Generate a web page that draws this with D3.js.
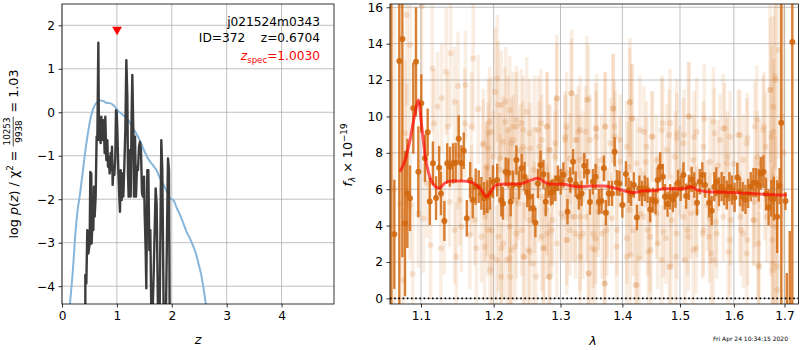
<!DOCTYPE html>
<html><head><meta charset="utf-8">
<script src="https://cdn.jsdelivr.net/npm/d3@7"></script>
<style>
body{margin:0;background:#fff;}
svg{font-family:"DejaVu Sans",sans-serif;}
</style></head><body>
<svg id="c" width="800" height="350"></svg>
<script>
// ---------------- LEFT PANEL DATA ----------------
const pzZ = [0.425,0.425,0.443,0.461,0.480,0.504,0.516,0.534,0.540,0.558,0.571,0.583,0.595,0.613,0.631,0.644,0.662,0.674,0.692,0.704,0.716,0.735,0.747,0.759,0.777,0.789,0.808,0.826,0.838,0.850,0.868,0.886,0.899,0.911,0.923,0.935,0.953,0.971,0.984,0.996,1.008,1.026,1.044,1.056,1.069,1.087,1.105,1.117,1.135,1.154,1.172,1.190,1.202,1.214,1.232,1.251,1.269,1.281,1.299,1.311,1.330,1.348,1.366,1.384,1.403,1.421,1.439,1.457,1.475,1.494,1.506,1.524,1.536,1.554,1.573,1.591,1.609,1.627,1.651,1.670,1.706,1.724,1.749,1.779,1.809,1.827,1.852,1.894,1.931,1.949,1.961];
const pzLog = [-4.6,-3.74,-3.94,-2.71,-3.25,-3.02,-1.37,-1.41,-3.02,-2.40,-2.71,-1.71,-2.40,-1.94,-0.56,-0.64,1.60,-0.64,-0.41,-0.71,-0.10,-0.41,-0.64,-0.18,-0.94,-0.10,-1.10,-0.64,-1.25,-1.02,-1.41,-0.94,-1.33,-0.79,-1.67,-1.33,-1.44,-1.02,0.05,0.01,-0.41,-1.33,-1.94,-2.29,-1.33,-2.02,-1.41,-1.94,-1.25,-0.41,1.20,0.36,-1.41,-1.94,-0.87,-1.94,-0.02,0.86,-0.41,-1.94,-0.56,-1.94,-1.25,-1.33,-0.79,-0.68,-0.87,-1.86,-1.94,-1.48,-2.33,-3.17,-4.05,-1.33,-1.33,-3.17,-2.71,-4.6,-4.6,-3.71,-1.75,-2.10,-4.6,-4.6,-0.64,-1.33,-4.6,-4.6,-1.06,-1.33,-4.6];
const priorZ = [0.13,0.20,0.24,0.28,0.33,0.39,0.42,0.47,0.51,0.56,0.60,0.65,0.70,0.75,0.80,0.87,0.93,0.97,1.03,1.10,1.20,1.30,1.40,1.47,1.54,1.60,1.66,1.72,1.78,1.85,1.92,1.97,2.03,2.09,2.15,2.21,2.27,2.33,2.39,2.44,2.48,2.53,2.57,2.62,2.65];
const priorLog = [-4.6,-3.6,-2.86,-2.3,-1.86,-1.25,-0.94,-0.5,-0.2,0.05,0.17,0.24,0.27,0.26,0.22,0.21,0.17,0.12,0.02,-0.05,-0.17,-0.38,-0.6,-0.8,-1.0,-1.13,-1.22,-1.33,-1.5,-1.67,-1.85,-1.98,-2.02,-2.2,-2.36,-2.55,-2.75,-2.9,-3.08,-3.25,-3.45,-3.7,-3.98,-4.4,-4.6];
const zSpec = 1.003, zSpecMarkerY = 1.9;
const pzXTicks = [0,1,2,3,4];
const pzYTicks = [-4,-3,-2,-1,0,1,2];

// ---------------- RIGHT PANEL DATA ----------------
const darkLam = [1.0616,1.0654,1.0718,1.0757,1.0791,1.0821,1.0856,1.0899,1.0934,1.0965,1.1004,1.1052,1.1088,1.1116,1.1158,1.1200,1.1242,1.1266,1.1312,1.1350,1.1387,1.1429,1.1466,1.1508,1.1545,1.1578,1.1620,1.1667,1.1703,1.1745,1.1787,1.1825,1.1863,1.1909,1.1947,1.1989,
1.2051,1.2110,1.2135,1.2174,1.2213,1.2247,1.2282,1.2331,1.2371,1.2409,1.2453,1.2493,1.2526,1.2576,1.2615,1.2654,1.2694,1.2738,1.2772,1.2812,1.2850,1.2879,1.2919,1.2959,1.3003,1.3045,1.3110,1.3154,1.3197,1.3239,1.3288,1.3332,1.3375,1.3424,1.3466,1.3515,1.3558,1.3612,
1.3655,1.3693,1.3725,1.3773,1.3828,1.3871,1.3909,1.3951,1.4000,1.4060,1.4105,1.4147,1.4193,1.4246,1.4288,1.4333,1.4381,1.4428,1.4474,1.4521,1.4568,1.4604,1.4649,1.4696,1.4732,1.4779,1.4825,1.4872,1.4919,1.4965,1.5013,1.5063,1.5111,1.5161,1.5211,1.5259,1.5309,1.5359,1.5407,1.5457,
1.5532,1.5581,1.5630,1.5667,1.5717,1.5767,1.5815,1.5865,1.5915,1.5963,1.6014,1.6067,1.6118,1.6171,1.6224,1.6275,1.6327,1.6380,1.6431,1.6484,1.6524,1.6576,1.6627,1.6680,1.6733,1.6784,1.6851,1.6902,1.6935,1.7020,1.7048,1.7108,1.7160];
const darkFlux = [-3,3.52,13.05,14.26,4.12,5.77,5.5,10.45,13.0,6.96,10.72,7.7,9.13,5.33,7.42,5.51,7.18,5.77,4.25,7.42,7.23,7.42,7.46,8.77,7.42,8.11,4.40,6.5,5.40,6.14,6.14,5.77,5.50,5.59,5.77,6.41,
6.5,5.40,5.22,6.96,6.9,5.31,6.23,7.6,6.23,7.15,6.69,5.81,5.59,4.95,4.16,6.32,7.33,6.82,5.31,6.23,5.81,5.86,6.05,6.60,6.41,6.78,4.76,6.5,7.51,6.27,5.59,5.77,7.29,6.96,5.29,6.41,6.69,5.31,
5.35,7.15,4.71,5.77,5.77,8.06,6.36,6.32,5.13,6.83,5.95,5.77,6.23,4.45,6.05,5.77,6.05,5.95,4.89,5.40,5.33,6.50,7.23,6.69,5.59,5.18,5.59,5.44,5.68,6.36,6.05,6.78,5.62,6.10,6.54,6.23,5.26,6.41,6.78,6.23,
5.26,4.82,6.14,6.41,5.86,6.14,5.92,5.68,6.14,5.95,5.55,6.65,5.86,5.59,5.44,5.77,6.14,6.36,6.36,6.23,6.87,6.96,5.73,5.0,5.5,5.48,4.49,6.17,9.65,5.35,-1,-0.5,14.09];
const darkErr = [25,3.0,14,12,4.0,3.0,1.8,2.5,3.0,2.5,1.6,1.3,1.3,1.3,1.2,1.2,1.2,1.2,1.1,1.1,1.1,1.1,1.1,1.3,1.0,1.0,1.0,1.0,1.0,1.0,0.9,0.9,0.9,0.9,0.9,0.9,
0.9,0.9,0.9,0.8,0.8,0.8,0.8,0.8,0.8,0.8,0.8,0.8,0.8,0.8,0.8,0.8,0.8,0.8,0.8,0.7,0.7,0.7,0.7,0.7,0.7,0.7,0.7,0.7,0.7,0.7,0.7,0.7,0.7,0.7,0.7,0.7,0.7,0.7,
0.7,0.7,0.7,0.7,0.7,0.8,0.7,0.7,0.7,0.7,0.7,0.7,0.7,0.7,0.7,0.7,0.7,0.7,0.7,0.7,0.7,0.7,0.8,0.7,0.7,0.7,0.7,0.7,0.7,0.7,0.7,0.7,0.7,0.7,0.7,0.7,0.7,0.7,0.7,0.7,
0.8,0.8,0.8,0.8,0.8,0.8,0.8,0.8,0.8,0.8,0.8,0.8,0.8,0.8,0.8,0.8,0.8,0.8,0.8,0.9,0.9,0.9,0.9,1.0,1.0,1.2,2.0,1.0,10,0.5,2.4,4.2,15];

const faintLam = [1.0813,1.0856,1.1010,1.1150,1.1336,1.1396,1.1709,1.1499,1.1601,1.1275,1.1452,1.1220,1.1779,1.1941,1.1965,1.1849,1.1919,1.1685,1.1592,1.1359,1.1172,1.0791,1.0813,1.0727,1.0856,1.1080,1.1382,1.1522,1.1685,1.1895,1.1032,1.1126,1.1266,1.1312,1.1452,1.1476,1.1662,1.1755,1.1871,1.1979,1.1919,1.0891,1.0770,1.0965,1.1545,1.1731,1.1825,
1.2051,1.2110,1.2174,1.2233,1.2282,1.2331,1.2404,1.2527,1.2600,1.2699,1.2797,1.2944,1.3170,1.3278,1.3396,1.3440,1.3558,1.3570,1.3235,1.3073,1.2919,1.2821,1.2674,1.2429,1.2257,1.2135,1.2085,1.2233,1.2331,1.2527,1.2453,1.2233,1.2110,1.2747,1.2797,1.3100,1.3235,1.3353,1.3505,1.3451,1.3558,1.3316,1.3181,1.3008,1.2871,1.2625,1.2821,1.2110,1.2674,1.2331,
1.3845,1.4123,1.4165,1.3720,1.3871,1.3801,1.3963,1.4368,1.4516,1.4691,1.4807,1.4942,1.5167,1.5074,1.5259,1.5444,1.3667,1.4077,1.4135,1.4281,1.4428,1.4486,1.4604,1.4749,1.4837,1.4925,1.5137,1.5291,1.5415,1.3704,1.4223,1.5198,1.4310,1.3909,1.3748,
1.5630,1.5828,1.6118,1.6263,1.6406,1.6588,1.6622,1.6720,1.6818,1.6882,1.6784,1.6459,1.5878,1.5569,1.5537,1.6131,1.6263,1.6490,1.6753,1.6851,1.6818,1.5661,1.5939,1.6392,1.6851,1.6720,
1.2200,1.2600,1.3100,1.3600,1.4100,1.4600,1.5000,1.5500,1.6000,1.6400,1.1500,1.1900,1.3300,1.4400,1.5700,1.6600,1.6950,1.6990,1.0650,
1.1852,1.1923,1.2020,1.2067,1.2164,1.2212,1.2286,1.1901,1.1995,1.2092,1.2238,1.1877,1.1972,1.2067,1.2140,1.2262,1.2044,1.1948,1.2189,1.2238,
1.2336,1.2434,1.2485,1.2659,1.2787,1.2942,1.2711,1.2534,1.2385,1.2838,1.2915,1.2584,1.2459,1.2360,1.2787,1.2534,1.2410,1.2711,1.2864,1.2311,1.2509,1.2735,1.2942,1.2584,1.2838,1.2434,
1.3176,1.3415,1.3097,1.3308,1.3576,1.3709,1.3849,1.3071,1.3256,1.3468,1.3877,1.3149,1.3360,1.3657,1.3961,1.3044,1.3228,1.3415,1.3602,1.3822,1.3149,1.3308,1.3521,1.3740,1.3097,1.3549,1.3906,1.3441,1.3709,1.3308,
1.4129,1.4158,1.4299,1.4501,1.4675,1.4822,1.4941,1.4073,1.4414,1.4764,1.4243,1.4588,1.4911,1.4129,1.4356,1.4588,1.4852,1.4185,1.4471,1.4704,1.4941,1.4073,1.4442,1.4675,1.4809,1.4243,
1.5151,1.5304,1.5611,1.5799,1.5059,1.5425,1.5737,1.5927,1.5242,1.5549,1.5864,1.5059,1.5304,1.5549,1.5799,1.5151,1.5425,1.5675,1.5927,1.5242,1.5611,1.5894,1.5090,
1.6086,1.6248,1.6444,1.6575,1.6182,1.6509,1.6119,1.6377,1.6643,1.6182,1.6476,1.6248,1.6476,1.6709,1.6809,1.6775,1.6743,1.6775,1.6763];
const faintFlux = [15.58,13.93,16.07,12.64,12.46,13.47,13.19,11.67,11.73,11.0,10.81,10.54,10.39,9.71,9.16,8.43,8.25,9.44,9.62,9.44,9.62,9.07,7.79,5.22,5.13,6.32,5.31,5.40,5.95,7.15,4.40,2.93,2.75,4.31,3.76,2.29,3.48,2.75,2.84,2.29,3.76,1.34,1.01,4.67,3.94,4.31,3.39,
12.09,10.63,10.81,10.35,9.44,9.80,9.62,9.07,9.25,9.62,9.44,11.0,11.27,9.16,9.16,10.94,9.34,8.89,8.70,8.89,8.52,8.15,8.34,8.34,8.52,8.61,7.70,3.94,3.57,2.56,2.29,2.20,2.75,2.75,3.57,3.21,3.57,3.57,2.75,1.37,3.30,4.49,4.49,4.67,4.31,1.19,1.19,1.19,5.59,5.40,
10.44,10.77,9.89,9.44,9.44,8.52,8.70,9.16,8.89,9.62,8.98,8.80,9.99,8.98,8.89,9.89,3.57,3.30,2.38,2.20,3.76,2.66,3.02,3.30,1.74,2.29,3.76,2.75,3.57,0.82,0.73,4.67,4.67,3.76,4.67,
9.07,9.35,8.98,8.80,9.44,9.44,8.34,11.45,12.0,13.65,9.16,7.79,7.79,2.47,3.39,3.76,3.21,1.74,3.21,0.46,3.94,4.21,4.31,4.31,1.74,5.22,
6.8,5.0,6.9,5.2,7.2,5.4,7.0,5.1,7.4,5.3,7.9,4.8,7.6,7.5,7.3,6.2,10.0,8.0,6.0,
8.52,9.07,11.36,10.63,9.71,9.25,8.70,7.24,7.79,7.05,6.87,4.49,3.75,3.39,3.02,2.66,2.11,1.56,2.11,1.19,
9.44,9.25,10.26,9.25,9.44,10.99,8.70,8.24,8.15,8.15,7.79,7.05,6.32,5.22,4.85,4.30,3.75,3.39,3.75,2.84,2.66,2.75,3.02,1.92,1.19,2.29,
11.27,10.90,9.44,9.25,9.34,9.44,10.44,8.70,8.70,8.70,8.89,7.69,7.79,7.60,7.51,4.49,4.49,4.49,4.76,4.40,3.75,3.39,3.57,3.75,3.21,2.66,2.84,1.37,0.82,2.29,
10.81,9.89,9.25,8.89,9.25,9.62,9.07,8.34,8.34,8.15,7.42,7.60,7.79,4.85,4.49,4.67,4.30,3.75,3.39,3.66,3.57,2.29,2.56,2.11,1.74,0.73,
9.99,9.16,9.71,9.34,8.52,8.34,8.70,8.89,7.60,7.51,7.42,4.49,4.76,4.40,4.49,3.39,3.75,3.57,3.21,2.66,2.11,2.56,2.11,
8.98,8.52,9.80,9.25,7.60,7.42,4.49,4.30,4.49,3.57,3.02,2.47,1.83,11.45,12.19,10.53,8.89,1.92,1.56];
const faintErr = [5,5,4,3.5,3.5,4,4,3,3,3,3,3,3,3,3,2.5,2.5,3,3,3,3,4,4,4,3,3,2.5,2.5,2.5,2.5,3,3,3,3,3,3,3,3,3,3,2.5,4,4,3,2.5,2.5,2.5,
3.5,3,3,3,3,3,3,3,3,3,3,3,3,2.5,2.5,3,2.5,2.5,2.5,2.5,2.5,2.5,2.5,2.5,2.5,2.5,2.5,2.5,2.5,3,3,3,3,3,2.5,2.5,2.5,2.5,3,3,2.5,2.5,2.5,2.5,2.5,3,3,3,2.5,2.5,
3,3,3,3,2.5,2.5,2.5,2.5,2.5,2.5,2.5,2.5,3,2.5,2.5,3,2.5,2.5,3,3,2.5,3,2.5,2.5,3,3,2.5,2.5,2.5,3,3,2.5,2.5,2.5,2.5,
2.5,2.5,2.5,2.5,2.5,3,3,4,5,6,4,2.5,2.5,3,2.5,2.5,2.5,3,4,5,5,2.5,2.5,2.5,5,4,
2.5,2.5,2.5,2.5,2.5,2.5,2.5,2.5,2.5,2.5,3,2.5,2.5,2.5,2.5,3,8,8,10,
3,3,3.5,3.5,3,3,2.5,2.5,2.5,2,2,2.5,2.5,3,3,3,3,3.5,3,3.5,
3,3,3,3,3,3.5,2.5,2.5,2.5,2.5,2.5,2,2,2,2.5,2.5,2.5,3,2.5,3,3,3,3,3,3.5,3,
3.5,3.5,3,3,3,3,3,2.5,2.5,2.5,2.5,2.5,2.5,2.5,2.5,2.5,2.5,2.5,2.5,2.5,2.5,3,3,2.5,3,3,3,3.5,3.5,3,
3.5,3,3,2.5,3,3,3,2.5,2.5,2.5,2.5,2.5,2.5,2.5,2.5,2.5,2.5,2.5,3,2.5,2.5,3,3,3,3,3.5,
3,3,3,3,2.5,2.5,2.5,2.5,2.5,2.5,2.5,2.5,2.5,2.5,2.5,3,2.5,2.5,3,3,3,3,3,
2.5,2.5,3,3,2.5,2.5,2.5,2.5,2.5,3,3,3,3.5,5,5,5,5,5,5];

const modelLam = [1.0727,1.0791,1.0856,1.0921,1.0965,1.1010,1.1056,1.1102,1.1172,1.1242,1.1312,1.1406,1.1545,1.1685,1.1825,1.1895,1.1941,1.1989,1.2037,1.2159,1.2356,1.2551,1.2650,1.2747,1.2846,1.3045,1.3262,1.3477,1.3693,1.3854,1.4018,1.4193,1.4368,1.4544,1.4719,1.4954,1.5074,1.5198,1.5322,1.5507,1.5754,1.6000,1.6327,1.6588,1.6851,1.7047];
const modelFlux = [6.96,7.6,8.7,10.17,10.9,9.43,7.78,6.87,6.23,6.05,6.32,6.45,6.45,6.38,5.95,5.59,5.77,6.05,6.23,6.28,6.28,6.5,6.6,6.41,6.28,6.27,6.14,6.17,6.17,6.08,5.92,5.81,5.92,5.92,6.03,6.03,6.03,6.14,5.95,5.86,5.84,5.81,5.77,5.72,5.68,5.68];
const specXTicks = [1.1,1.2,1.3,1.4,1.5,1.6,1.7];
const specYTicks = [0,2,4,6,8,10,12,14,16];

// ---------------- DRAWING ----------------
const svg = d3.select("#c");
const FS = 12.2;
const L = {x0:62, x1:334, y0:4, y1:304};
const R = {x0:390, x1:798.5, y0:4, y1:304};
const xz = d3.scaleLinear().domain([0,4.955]).range([L.x0,L.x1]);
const yz = d3.scaleLinear().domain([-4.41,2.49]).range([L.y1,L.y0]);
const xl = d3.scaleLog().domain([1.0599,1.7288]).range([R.x0,R.x1]);
const yf = d3.scaleLinear().domain([-0.31,16.18]).range([R.y1,R.y0]);

const defs = svg.append("defs");
defs.append("clipPath").attr("id","clipL").append("rect").attr("x",L.x0).attr("y",L.y0).attr("width",L.x1-L.x0).attr("height",L.y1-L.y0);
defs.append("clipPath").attr("id","clipR").append("rect").attr("x",R.x0).attr("y",R.y0).attr("width",R.x1-R.x0).attr("height",R.y1-R.y0);

function grid(box, x, y, xt, yt){
  const g = svg.append("g");
  g.selectAll(".gx").data(xt).join("line").attr("x1",d=>x(d)).attr("x2",d=>x(d)).attr("y1",box.y0).attr("y2",box.y1)
    .attr("stroke","#b0b0b0").attr("stroke-width",0.8);
  g.selectAll(".gy").data(yt).join("line").attr("class","gy").attr("y1",d=>y(d)).attr("y2",d=>y(d)).attr("x1",box.x0).attr("x2",box.x1)
    .attr("stroke","#b0b0b0").attr("stroke-width",0.8);
}
function axes(box, x, y, xt, yt, xfmt, yfmt){
  const gx = svg.append("g").attr("transform",`translate(0,${box.y1})`)
    .call(d3.axisBottom(x).tickValues(xt).tickFormat(xfmt).tickSizeInner(3.5).tickSizeOuter(0).tickPadding(3.5));
  const gy = svg.append("g").attr("transform",`translate(${box.x0},0)`)
    .call(d3.axisLeft(y).tickValues(yt).tickFormat(yfmt).tickSizeInner(3.5).tickSizeOuter(0).tickPadding(3.5));
  [gx,gy].forEach(g=>{
    g.select(".domain").remove();
    g.selectAll("line").attr("stroke","#000").attr("stroke-width",0.8);
    g.selectAll("text").attr("font-size",FS).attr("font-family","DejaVu Sans").attr("fill","#000");
  });
  svg.append("rect").attr("x",box.x0).attr("y",box.y0).attr("width",box.x1-box.x0).attr("height",box.y1-box.y0)
    .attr("fill","none").attr("stroke","#000").attr("stroke-width",0.8);
}

// LEFT
grid(L, xz, yz, pzXTicks, pzYTicks);
const gL = svg.append("g").attr("clip-path","url(#clipL)");
const prior = priorZ.map((z,i)=>[z,priorLog[i]]);
gL.append("path").datum(prior).attr("d",d3.line().x(d=>xz(d[0])).y(d=>yz(d[1])).curve(d3.curveMonotoneX))
  .attr("fill","none").attr("stroke","#86b6dc").attr("stroke-width",2);
const pz = pzZ.map((z,i)=>[z,pzLog[i]]);
gL.append("path").datum(pz).attr("d",d3.line().x(d=>xz(d[0])).y(d=>yz(d[1])))
  .attr("fill","none").attr("stroke","#3c3c3c").attr("stroke-width",2.4).attr("stroke-linejoin","round");
const tri = d3.symbol().type(d3.symbolTriangle).size(42);
gL.append("path").attr("d",tri()).attr("transform",`translate(${xz(zSpec)},${yz(zSpecMarkerY)}) rotate(180)`).attr("fill","red");
axes(L, xz, yz, pzXTicks, pzYTicks, d3.format("d"), d3.format("d"));

// RIGHT
grid(R, xl, yf, specXTicks, specYTicks);
const gR = svg.append("g").attr("clip-path","url(#clipR)");
const col = "#d2690f";
const faint = faintLam.map((l,i)=>({l, f:faintFlux[i], e:faintErr[i]}));
gR.selectAll(".fe").data(faint).join("line").attr("x1",d=>xl(d.l)).attr("x2",d=>xl(d.l))
  .attr("y1",d=>yf(d.f-d.e)).attr("y2",d=>yf(d.f+d.e)).attr("stroke",col).attr("stroke-opacity",0.12).attr("stroke-width",3.5);
gR.selectAll(".fd").data(faint).join("circle").attr("cx",d=>xl(d.l)).attr("cy",d=>yf(d.f)).attr("r",3)
  .attr("fill",col).attr("fill-opacity",0.17);
const dark = darkLam.map((l,i)=>({l, f:darkFlux[i], e:darkErr[i]}));
gR.selectAll(".de").data(dark).join("line").attr("x1",d=>xl(d.l)).attr("x2",d=>xl(d.l))
  .attr("y1",d=>yf(d.f-d.e)).attr("y2",d=>yf(d.f+d.e)).attr("stroke",col).attr("stroke-opacity",0.85).attr("stroke-width",2.4);
gR.selectAll(".dd").data(dark).join("circle").attr("cx",d=>xl(d.l)).attr("cy",d=>yf(d.f)).attr("r",3)
  .attr("fill",col).attr("fill-opacity",0.9);
gR.append("line").attr("x1",R.x0).attr("x2",R.x1).attr("y1",yf(0)).attr("y2",yf(0))
  .attr("stroke","#000").attr("stroke-width",1.6).attr("stroke-dasharray","1.6,2.6");
const model = modelLam.map((l,i)=>[l,modelFlux[i]]);
gR.append("path").datum(model).attr("d",d3.line().x(d=>xl(d[0])).y(d=>yf(d[1])).curve(d3.curveMonotoneX))
  .attr("fill","none").attr("stroke","red").attr("stroke-opacity",0.65).attr("stroke-width",3);
axes(R, xl, yf, specXTicks, specYTicks, d3.format(".1f"), d3.format("d"));

// ---------------- TEXT ----------------
svg.append("text").attr("x",320).attr("y",26).attr("text-anchor","end").attr("font-size",FS).text("j021524m0343");
svg.append("text").attr("x",320).attr("y",41.5).attr("text-anchor","end").attr("font-size",FS).style("white-space","pre").text("ID=372    z=0.6704");
const zs = svg.append("text").attr("x",320).attr("y",60).attr("text-anchor","end").attr("font-size",FS).attr("fill","red");
zs.append("tspan").attr("font-style","italic").text("z");
zs.append("tspan").attr("font-size",8.6).attr("dy",2.5).text("spec");
zs.append("tspan").attr("dy",-2.5).text("=1.0030");

svg.append("text").attr("x",198).attr("y",344).attr("text-anchor","middle").attr("font-size",FS+0.5).attr("font-style","italic").text("z");
svg.append("text").attr("x",593).attr("y",345).attr("text-anchor","middle").attr("font-size",FS+0.5).attr("font-style","italic").text("λ");

const yg = svg.append("g").attr("transform","translate(17.5,154) rotate(-90)");
const inner = yg.append("g");
const t1 = inner.append("text").attr("font-size",FS+0.5);
t1.append("tspan").text("log ");
t1.append("tspan").attr("font-style","italic").text("p");
t1.append("tspan").text("(");
t1.append("tspan").attr("font-style","italic").text("z");
t1.append("tspan").text(") / χ");
t1.append("tspan").attr("font-size",8.8).attr("dy",-5).text("2");
t1.append("tspan").attr("dy",5).style("white-space","pre").text(" = ");
const w1 = t1.node().getComputedTextLength();
const num = inner.append("text").attr("font-size",8.8).attr("y",-7.5).attr("text-anchor","middle").text("10253");
const den = inner.append("text").attr("font-size",8.8).attr("y",4).attr("text-anchor","middle").text("9938");
const fw = Math.max(num.node().getComputedTextLength(), den.node().getComputedTextLength()) + 2;
num.attr("x", w1 + fw/2); den.attr("x", w1 + fw/2);
inner.append("line").attr("x1",w1).attr("x2",w1+fw).attr("y1",-4.3).attr("y2",-4.3).attr("stroke","#000").attr("stroke-width",0.7);
const t3 = inner.append("text").attr("font-size",FS+0.5).attr("x",w1+fw).style("white-space","pre").text(" = 1.03");
const total = w1 + fw + t3.node().getComputedTextLength();
inner.attr("transform",`translate(${-total/2},0)`);

const ry = svg.append("text").attr("transform","translate(352,155) rotate(-90)").attr("text-anchor","middle").attr("font-size",FS+0.5);
ry.append("tspan").attr("font-style","italic").text("f");
ry.append("tspan").attr("font-size",8.8).attr("dy",2.5).attr("font-style","italic").text("λ");
ry.append("tspan").attr("dy",-2.5).style("white-space","pre").text(" × 10");
ry.append("tspan").attr("font-size",8.8).attr("dy",-5).text("−19");

svg.append("text").attr("x",788).attr("y",341).attr("text-anchor","end").attr("font-size",6).text("Fri Apr 24 10:34:15 2020");
</script>
</body></html>
